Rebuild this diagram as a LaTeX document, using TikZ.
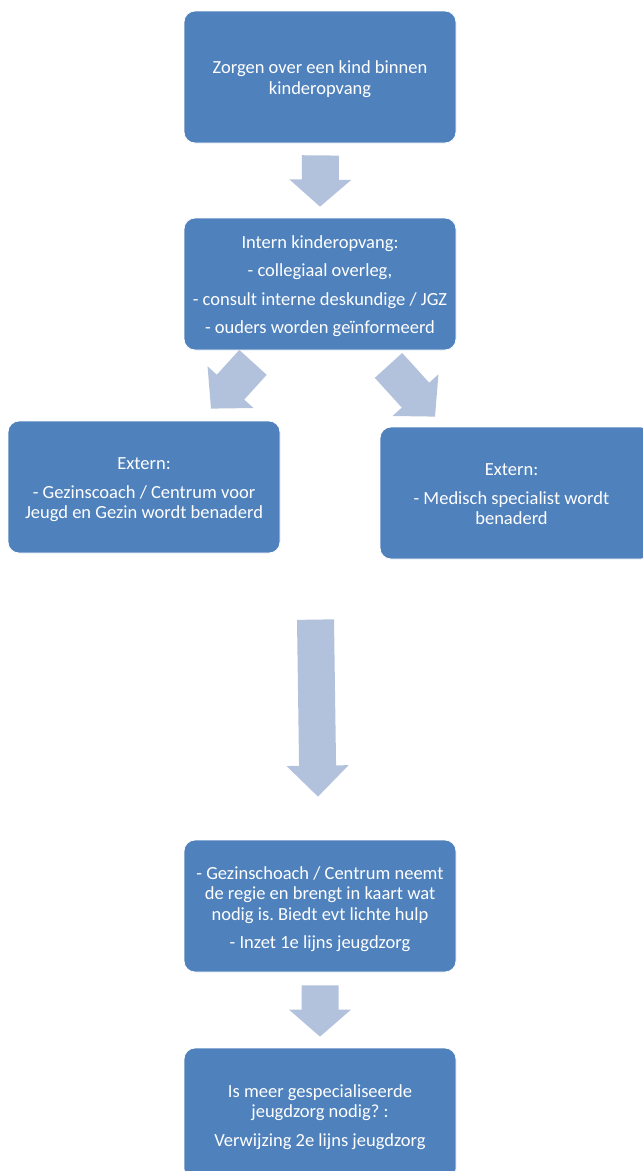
\documentclass[tikz,border=0pt]{standalone}
\usepackage{fontspec}
\setmainfont{Carlito}
\usetikzlibrary{calc}
\frenchspacing
\definecolor{boxblue}{HTML}{4F81BD}
\definecolor{arrowblue}{HTML}{B3C2DC}
\newcommand{\blockarr}[3]{%
  \path ($(#2)!#3!(#1)$) coordinate (hb);
  \fill[arrowblue] ($(#1)!18.5pt!90:(#2)$) -- ($(hb)!18.5pt!90:(#2)$) -- ($(hb)!31pt!90:(#2)$) -- (#2)
    -- ($(hb)!31pt!-90:(#2)$) -- ($(hb)!18.5pt!-90:(#2)$) -- ($(#1)!18.5pt!-90:(#2)$) -- cycle;}
\begin{document}
\begin{tikzpicture}[x=1pt,y=-1pt,
  stepbox/.style={rectangle, rounded corners=11pt, fill=boxblue, draw=white, line width=0.8pt,
    minimum width=272pt, minimum height=132pt, inner sep=0pt},
  boxtext/.style={text=white, align=center, inner sep=0pt,
    font=\fontsize{18.5}{20.5}\selectfont\frenchspacing}]
\useasboundingbox (0,0) rectangle (643,1171);
\fill[white] (0,0) rectangle (643,1171);
\clip (0,0) rectangle (643,1171);

\node[stepbox] (b1) at (320,77) {};
\node[stepbox] (b2) at (320,284) {};
\node[stepbox] (b3) at (144,487) {};
\node[stepbox] (b4) at (516,493) {};
\node[stepbox] (b5) at (320,906) {};
\node[stepbox] (b6) at (320,1114) {};

\node[boxtext] (t1) at ($(b1.center)+(0,2)$) {Zorgen over een kind binnen\\kinderopvang};
\node[boxtext] (t2) at ($(b2.center)+(0,2)$) {Intern kinderopvang:\\[8pt]- collegiaal overleg,\\[8pt]- consult interne deskundige / JGZ\\[8pt]- ouders worden geïnformeerd};
\node[boxtext] (t3) at ($(b3.center)+(0,3)$) {Extern:\\[8pt]- Gezinscoach / Centrum voor\\Jeugd en Gezin wordt benaderd};
\node[boxtext] (t4) at ($(b4.center)+(-4.5,1.5)$) {Extern:\\[8pt]- Medisch specialist wordt\\benaderd};
\node[boxtext] (t5) at ($(b5.center)+(0,3)$) {- Gezinschoach / Centrum neemt\\de regie en brengt in kaart wat\\nodig is. Biedt evt lichte hulp\\[8pt]- Inzet 1e lijns jeugdzorg};
\node[boxtext] (t6) at ($(b6.center)+(0,3)$) {Is meer gespecialiseerde\\jeugdzorg nodig? :\\[8pt]Verwijzing 2e lijns jeugdzorg};

\coordinate (a1s) at ($(b1.south)+(0.5,12)$);
\coordinate (a1e) at ($(b2.north)+(0,-11)$);
\coordinate (a2s) at ($(b2.south)+(-67,12)$);
\coordinate (a2e) at ($(b3.north)+(67,-12)$);
\coordinate (a3s) at ($(b2.south)+(68.5,15)$);
\coordinate (a3e) at ($(b4.north)+(-81,-10)$);
\coordinate (a4s) at ($(b5.north)+(-4.5,-220)$);
\coordinate (a4e) at ($(b5.north)+(-2,-43)$);
\coordinate (a5s) at ($(b5.south)+(0,13)$);
\coordinate (a5e) at ($(b6.north)+(0,-11)$);

\blockarr{a1s}{a1e}{27pt}
\blockarr{a2s}{a2e}{29pt}
\blockarr{a3s}{a3e}{29pt}
\blockarr{a4s}{a4e}{31pt}
\blockarr{a5s}{a5e}{27pt}
\end{tikzpicture}
\end{document}
